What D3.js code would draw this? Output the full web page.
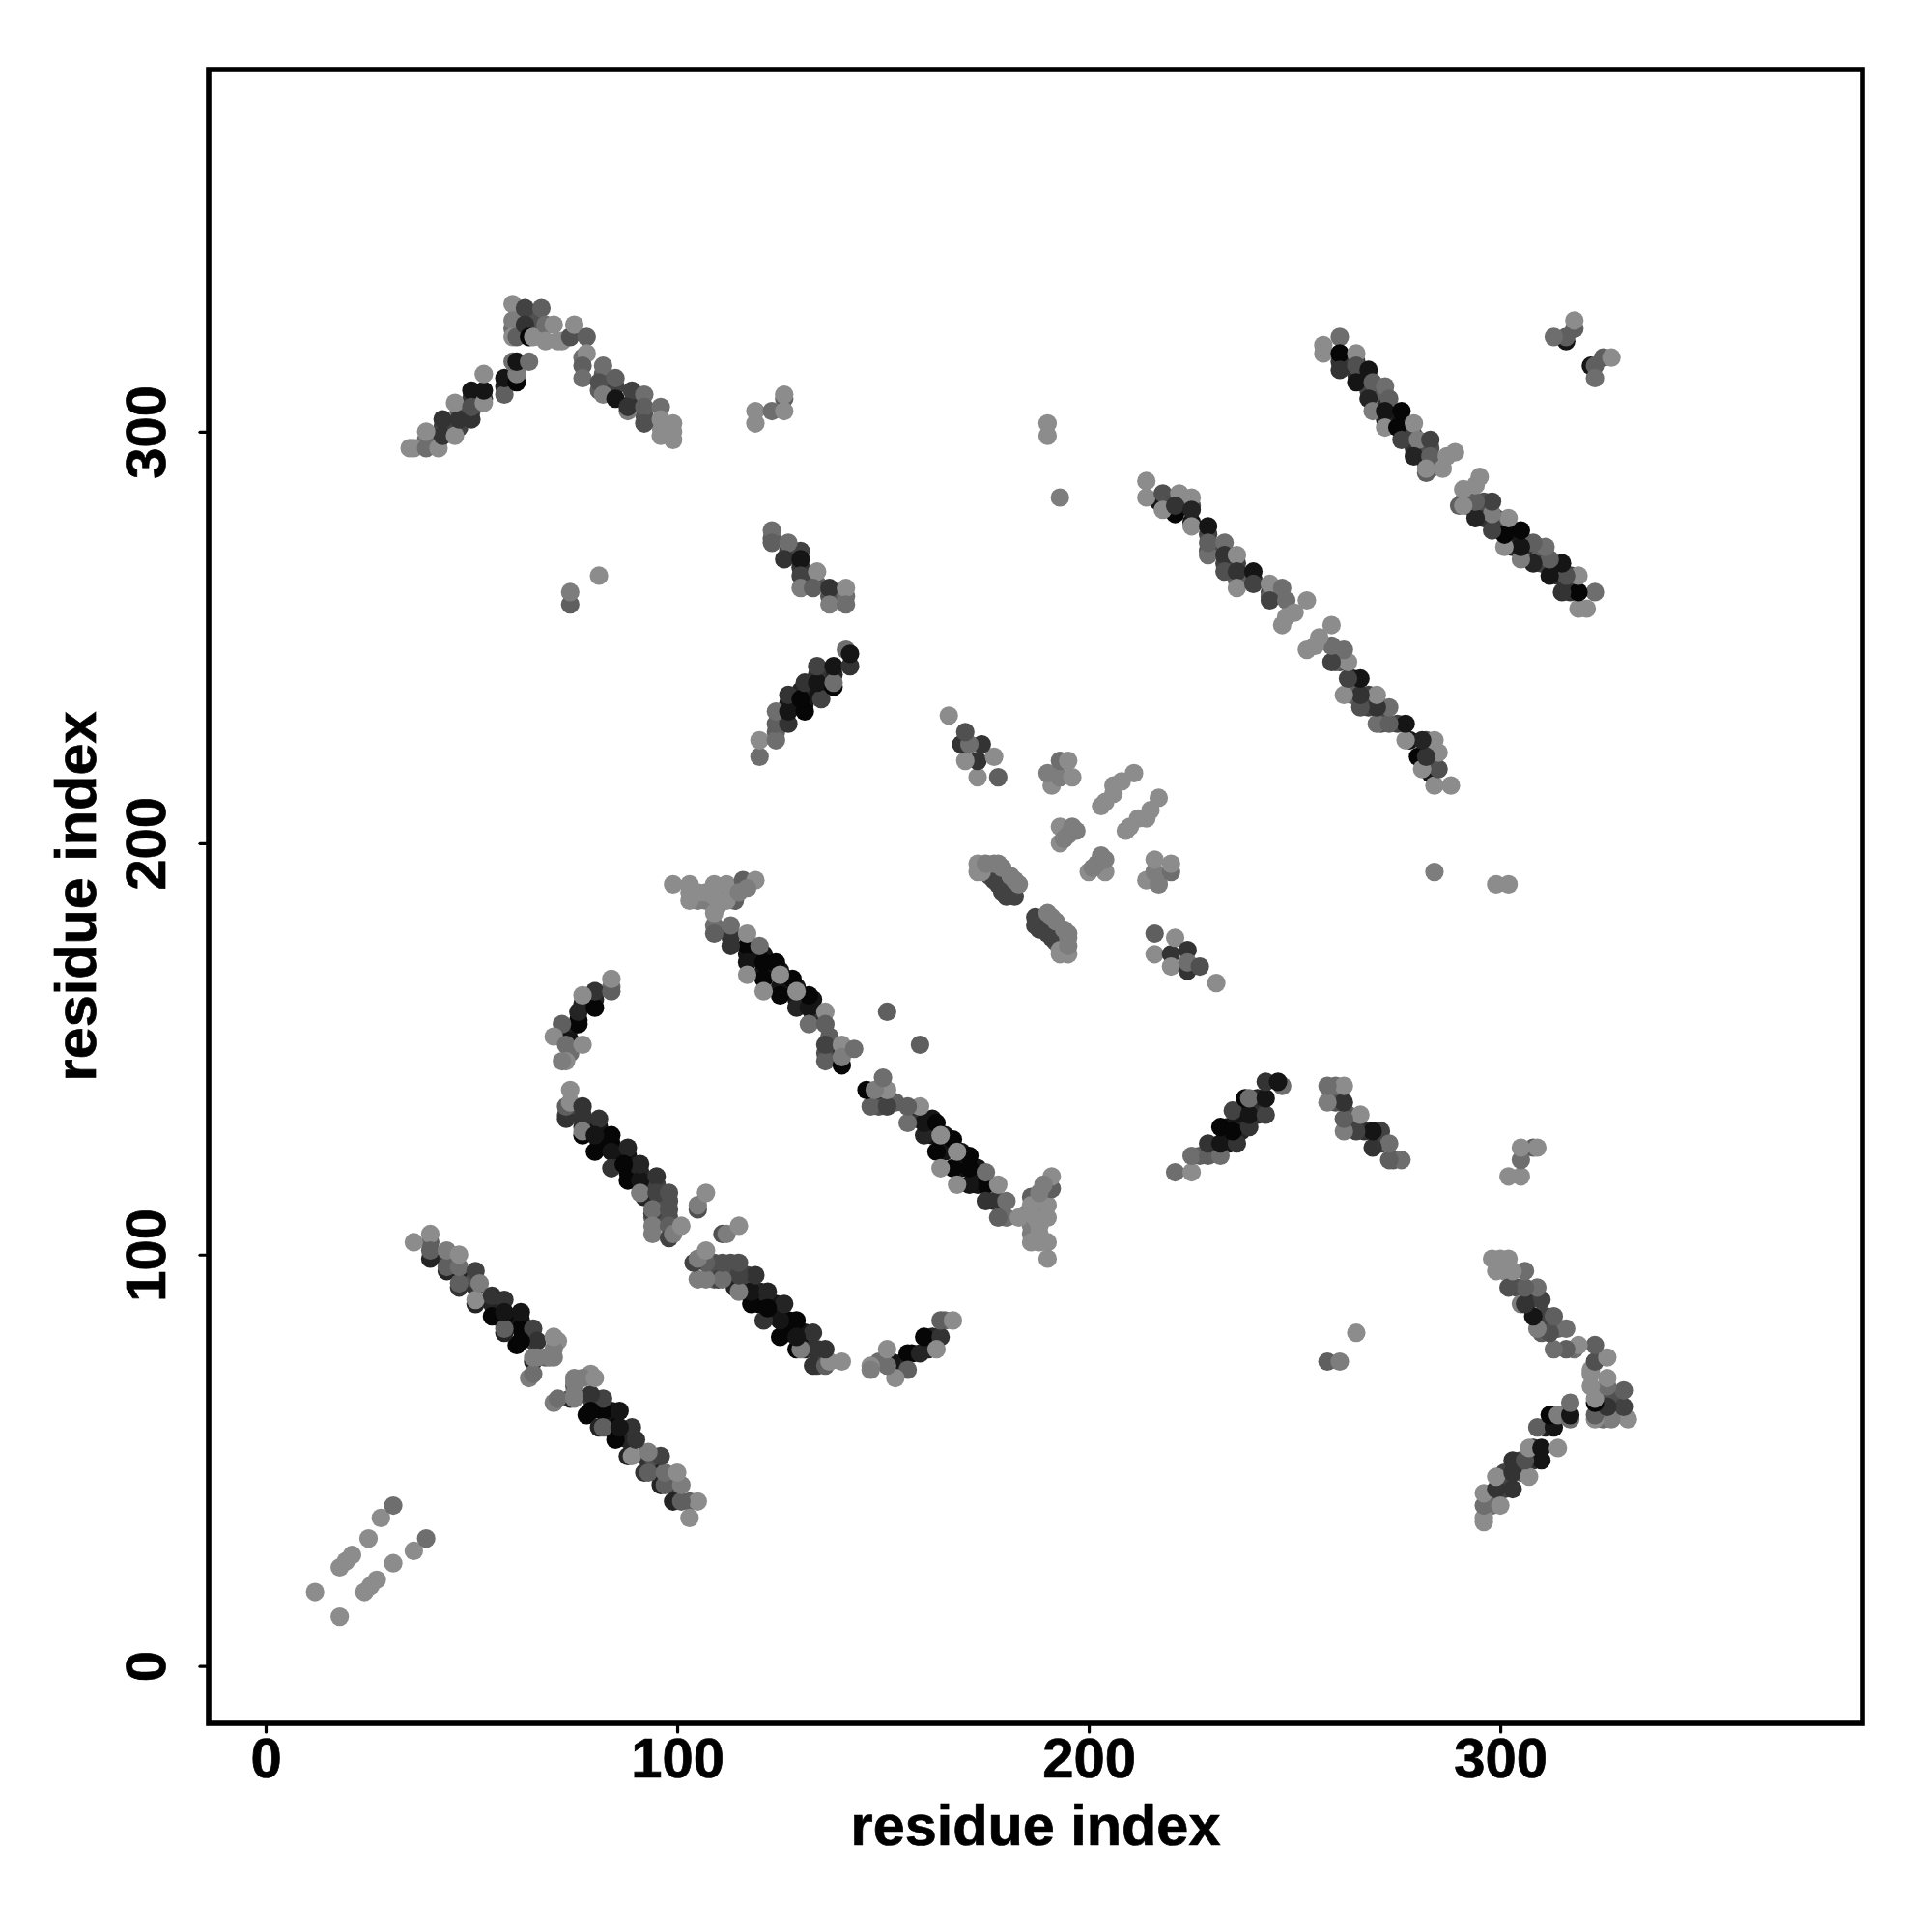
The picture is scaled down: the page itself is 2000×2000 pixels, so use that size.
<!DOCTYPE html>
<html><head><meta charset="utf-8">
<script src="https://cdn.jsdelivr.net/npm/d3@7"></script>
<style>html,body{margin:0;padding:0;background:#fff}svg{display:block}text{font-family:"Liberation Sans",Arial,sans-serif;font-weight:bold;fill:#000;stroke:#000;stroke-width:0.7px}</style>
</head><body><svg id="c" width="2000" height="2000"></svg>
<script>
// each contact: [residue i, residue j, strength 0..9]; the map is symmetric in i and j
const xTicks=[0,100,200,300];
const yTicks=[0,100,200,300];
const axisTitle="residue index";
const nearOrigin=[[12,18,0],[18,24,0],[19.5,25.5,0],[21,27,0],[25,31,0],[28,36,0],[31,39,2]];
const bandA=[[44,99,5],[47,95,4],[51,92,6],[55,88,7],[58,83,8],[62,84,8],[65,79,5],[51,94,4],[40,103,3],
[40,99,7],[44,96,7],[47,92,6],[47,96,7],[51,88,7],[55,85,9],[58,85,9],[62,82,9],[61,78,9],[58,81,7],[65,74,7],[64,70,1],[65,71,2],
[36,103,0],[40,105,0],[40,101,3],[44,97,3],[44,101,1],[47,93,3],[47,97,2],[47,100,0],[51,96,5],[51,89,0],[52,93,1],[55,90,6],[58,89,6],[58,82,3],[62,86,8],[58,86,8],[65,82,5],[66,79,6],[62,79,9],[65,75,1],[68,75,3],[70,75,1],[71,79,0],[70,77,1],[70,80,0],[75,66,1],[75,69,1]];
const bandB=[[77,131,7],[81,131,8],[81,127,9],[84,127,9],[88,124,8],[88,120,9],[91,120,7],[91,117,7],[95,117,5],[95,113,4],[98,113,4],[94,109,3],[98,109,4],[77,134,6],[73,134,5],
[73,133,6],[77,129,9],[84,129,9],[80,125,9],[84,125,8],[84,121,6],[88,118,9],[91,118,8],[92,114,7],[94,110,5],
[73,136,3],[74,137,0],[74,140,0],[77,136,6],[77,133,6],[77,130,1],[81,133,6],[80,129,8],[88,126,7],[91,122,7],[87,122,9],[95,119,6],[91,115,1],[95,115,5],[98,115,4],[94,111,2],[98,111,4],[94,107,1],[94,105,1],[98,107,3],[98,104,5],[99,105,1],[101,107,0],[105,111,4],[105,112,1],[107,115,0]];
const bandC=[[76,157,9],[73,153,5],[74,149,2],[77,161,7],[80,162,7],[84,165,2],[74,155,7],
[76,156,9],[74,152,8],[72,156,3],[70,153,0],[73,151,2],[73,147,0],[72,147,1],[77,151,0],[76,159,7],[80,160,9],[80,164,6],[77,163,0],[84,164,3],[84,167,0]];
const bandD=[[113,178,4],[113,177,6],[117,173,8],[121,173,8],[121,169,8],[125,169,8],[125,165,8],[129,165,8],[129,162,8],[133,162,8],[133,158,6],[136,149,4],[137,153,3],[140,149,6],[109,180,2],[105,186,1],[107,186,1],[103,190,0],[110,185,1],[114,186,3],
[112,188,9],[117,175,9],[113,175,6],[117,171,8],[121,171,9],[124,171,9],[121,167,9],[125,163,9],[128,167,9],[129,160,7],[132,160,8],[132,163,9],[136,147,3],[140,146,9],
[99,190,0],[103,188,0],[103,186,0],[105,188,0],[107,188,0],[109,190,0],[109,187,0],[112,190,0],[112,186,0],[116,191,3],[115,188,1],[119,191,0],[117,189,1],
[109,183,0],[109,178,3],[113,180,2],[117,178,0],[120,175,2],[117,168,0],[125,168,0],[121,164,0],[129,164,0],[136,159,0],[132,156,2],[136,156,3],[136,151,5],[140,151,0],[140,148,1],[143,150,2],[151,159,3]];
const bandE=[[127,234,8],[131,234,8],[134,237,8],[138,241,7],[124,227,3],[134,241,6],[130,237,7],[130,271,5],[127,271,5],[123,274,3],[134,263,3],[137,260,4],[141,260,2],[130,267,6],[133,264,4],
[123,276,2],[123,273,3],[127,273,2],[126,269,6],[130,269,8],[130,265,5],[134,266,0],[130,262,1],[133,262,3],[137,262,6],[141,262,0],[137,258,1],[141,258,2],
[120,221,2],[120,225,0],[124,225,2],[124,229,3],[127,229,6],[124,232,2],[127,232,8],[131,232,9],[127,236,6],[130,235,9],[135,235,5],[131,239,6],[134,239,8],[138,238,9],[138,239,2],[134,243,5],[138,243,8],[142,243,6],[141,247,2],[142,246,8]];
const bandF=[[43,301,5],[47,301,5],[47,305,3],[50,305,5],[50,308,6],[53,308,6],[58,311,7],[61,314,6],[39,298,2],[42,298,3],[62,328,4],[62,325,5],[60,325,2],[77,318,2],[82,314,3],[81,310,3],[85,311,5],[89,307,6],[92,304,4],[96,301,0],[99,300,0],[65,328,4],[65,325,4],
[35,296,0],[36,296,0],[39,296,2],[42,296,0],[43,299,6],[39,300,0],[43,303,6],[46,299,0],[47,303,6],[50,303,6],[50,310,8],[46,307,0],[50,306,4],[53,307,0],[53,310,8],[53,314,0],[58,309,3],[58,313,8],[61,312,9],[61,314,1],[60,317,2],[61,317,8],[64,317,2],
[60,331,0],[60,327,1],[60,323,0],[61,323,3],[63,330,5],[63,326,6],[64,323,9],[65,323,0],[67,330,3],[68,326,2],[70,326,0],[68,322,0],[71,322,0],[72,322,0],[74,323,4],[75,326,0],[78,323,3],
[78,319,0],[77,316,3],[82,316,2],[77,313,2],[81,312,4],[85,313,3],[82,309,1],[85,308,8],[89,310,5],[88,305,1],[88,306,6],[92,309,2],[92,306,3],[92,302,4],[96,306,2],[96,303,0],[96,299,0],[99,302,0],[99,298,0]];
const scattered=[[119,305,0],[119,302,0],[123,305,2],[126,308,3],[126,305,0],[126,309,0],[74,258,3],[74,261,1],[81,265,0],[190,299,0],[190,302,0],[193,284,1]];
const bandG=[[216,178,3],[216,173,0],[220,173,6],[221,177,0],[224,174,6],[220,170,0],[224,169,6],[224,171,2],[227,170,4],[231,166,0]];
const bandH=[[191,214,0],[190,217,1],[193,216,1],[193,220,2],[195,220,0],[196,216,0],
[203,209,0],[204,210,0],[206,212,0],[206,214,0],[208,215,0],[211,217,0],
[193,204,0],[193,200,0],[197,203,1],[195,202,1],[194,201,1],[196,204,1],
[176,192,4],[177,193,3],[178,192,4],[180,190,4],
[173,195,0],[173,193,0],[177,191,5],[178,190,5],[179,188,5],[180,187,5],[182,187,5],[177,195,1],[178,195,1],[179,194,1],[181,192,1],[182,191,1],[183,190,1],
[174,193,0],[175,195,1]];
const bandI=[[218,283,6],[221,284,5],[225,282,4],[229,275,5],[233,271,6],[233,268,5],[236,268,5],[240,264,7],[236,264,3],[244,261,5],[244,260,3],[229,271,4],
[217,283,8],[225,278,8],[221,280,9],[229,270,2],[214,288,0],[214,284,0],[218,285,4],[218,281,0],[222,285,0],[225,284,0],[221,282,6],[225,281,7],[225,277,0],[229,277,8],[229,273,3],[233,273,2],[233,270,6],[233,266,4],[236,270,0],[236,266,6],[240,266,8],[236,262,0],[240,263,5],[244,263,0],[247,262,2],[244,259,5],[248,259,2],[248,255,0],[247,253,0],[250,256,0],[253,259,0]];
const bandJ=[[261,317,6],[265,317,5],[265,314,6],[268,313,7],[268,310,5],[272,309,3],[272,306,6],[272,303,7],[276,303,8],[276,300,6],[279,299,5],[279,296,6],[283,296,4],[282,292,4],[283,291,3],
[261,323,2],[257,321,0],[257,319,0],[261,319,9],[265,319,0],[261,315,6],[265,316,4],[268,315,8],[265,312,8],[269,312,3],[272,311,2],[268,308,7],[273,308,3],[269,305,1],[272,305,8],[276,305,9],[272,301,0],[275,301,9],[279,302,0],[276,298,5],[280,298,1],[283,298,5],[279,294,7],[283,294,3],[282,290,3],[282,291,0],[286,291,0],[287,294,0],[289,295,0]];
const corner=[[318,325,3],[316,322,8],[316,323,3],[313,323,2],[318,327,0]];

const allBands=[nearOrigin,bandA,bandB,bandC,bandD,bandE,bandF,scattered,bandG,bandH,bandI,bandJ,corner];
const left=216,right=1928,top_=72,bottom=1784;
const x=d3.scaleLinear().domain([-13.85,388]).range([left,right]);
const y=d3.scaleLinear().domain([-13.92,388]).range([bottom,top_]);
const gray=d3.scaleLinear().domain([0,9]).range([140,6]);
const svg=d3.select("#c");
const contacts=allBands.flatMap(b=>b.flatMap(d=>[d,[d[1],d[0],d[2]]]));
svg.append("g").selectAll("circle").data(contacts).join("circle")
 .attr("cx",d=>x(d[0])).attr("cy",d=>y(d[1])).attr("r",9.6)
 .attr("fill",d=>{const g=Math.round(gray(d[2]));return `rgb(${g},${g},${g})`;});
svg.append("rect").attr("x",left).attr("y",top_).attr("width",right-left).attr("height",bottom-top_).attr("fill","none").attr("stroke","#000").attr("stroke-width",5.6);
const gx=svg.append("g").attr("transform",`translate(0,${bottom})`).call(d3.axisBottom(x).tickValues(xTicks).tickSize(9).tickPadding(0).tickFormat(d3.format("d")));
const gy=svg.append("g").attr("transform",`translate(${left},0)`).call(d3.axisLeft(y).tickValues(yTicks).tickSize(9).tickFormat(d3.format("d")));
[gx,gy].forEach(g=>{g.select(".domain").remove();g.selectAll("line").attr("stroke","#000").attr("stroke-width",3.2).attr("stroke-linecap","round");});
gx.selectAll("text").attr("y",55.5).attr("dy",0).style("font-size","58px").attr("text-anchor","middle");
gy.selectAll("text").attr("x",0).attr("dy",0).attr("text-anchor","middle").attr("y",0).style("font-size","58px")
  .attr("transform",`translate(-45.5,0) rotate(-90)`);
svg.append("text").attr("x",(left+right)/2).attr("y",1910).attr("text-anchor","middle").style("font-size","59.4px").text(axisTitle);
svg.append("text").attr("transform",`translate(99,${(top_+bottom)/2}) rotate(-90)`).attr("text-anchor","middle").style("font-size","59.4px").text(axisTitle);
</script></body></html>
